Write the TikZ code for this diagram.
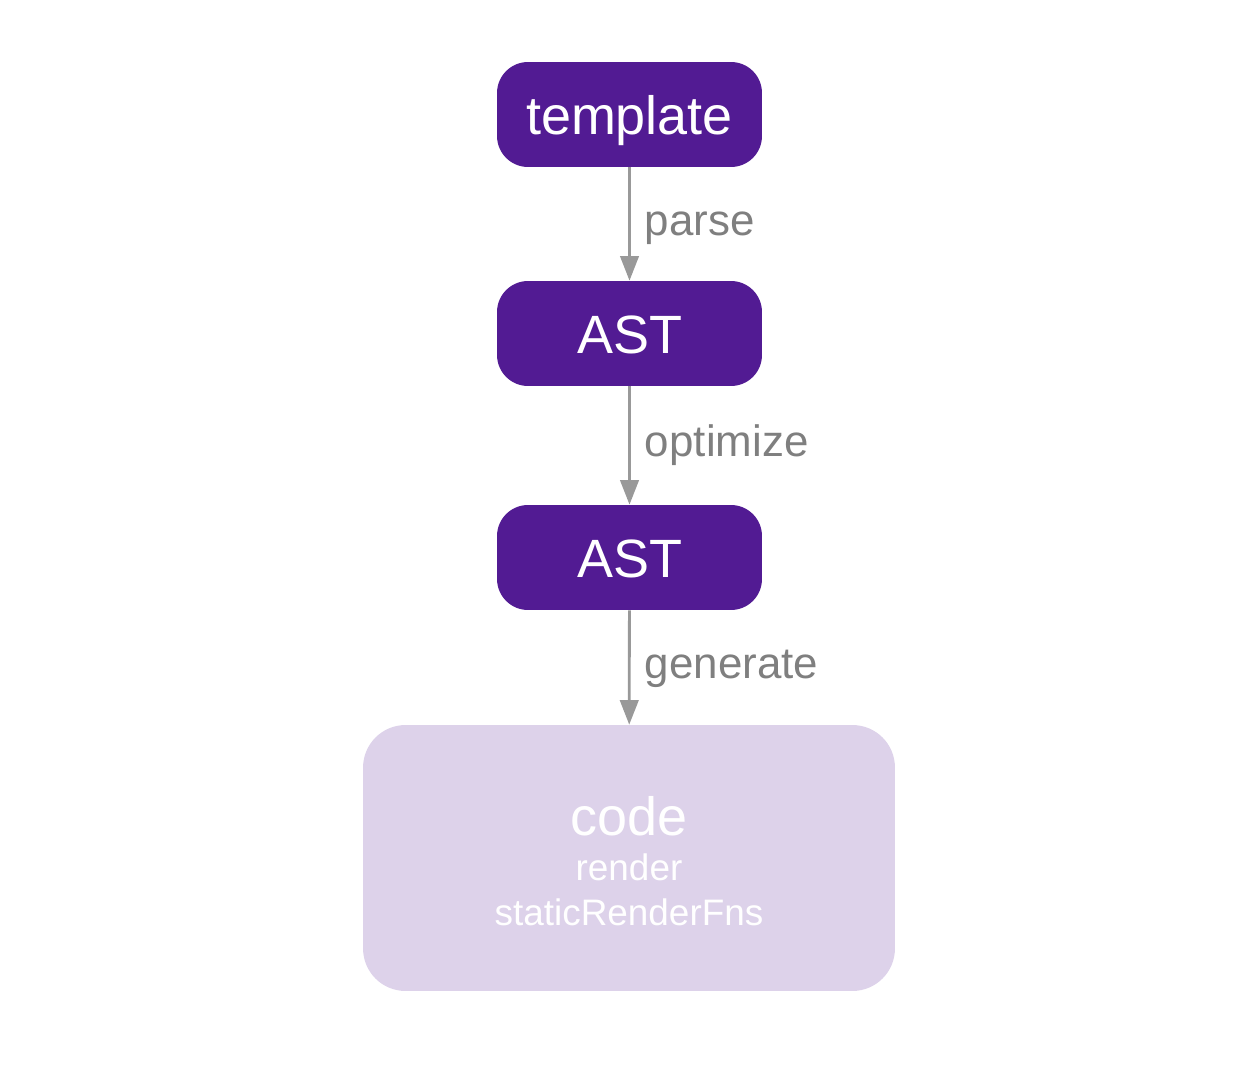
\documentclass[tikz,border=0pt]{standalone}
\usepackage{fontspec}
\setmainfont{Liberation Sans}
\usetikzlibrary{arrows.meta}
\definecolor{grape}{HTML}{521B93}
\definecolor{lilac}{HTML}{DDD2EA}
\definecolor{arrowgray}{HTML}{999999}
\definecolor{labelgray}{HTML}{7F7F7F}
\tikzset{
  stagebox/.style={fill=grape, text=white, rounded corners=0.62cm, minimum width=5.3cm, minimum height=2.1cm,
    inner sep=0pt, text height=22.8pt, text depth=0pt, font=\fontsize{30.7}{36}\selectfont},
  codebox/.style={fill=lilac, text=white, rounded corners=0.85cm, minimum width=10.64cm, minimum height=5.32cm,
    inner sep=0pt, align=center, font=\fontsize{21}{25.5}\selectfont},
  flow/.style={draw=arrowgray, line width=1.6pt, -{Triangle[length=14pt, width=10.5pt]}},
  steplabel/.style={text=labelgray, font=\fontsize{25}{30}\selectfont, anchor=base west, inner sep=0pt, xshift=8pt, yshift=-6.3pt}
}
\begin{document}
\begin{tikzpicture}[x=0.02cm, y=-0.02cm]
\useasboundingbox (0,0) rectangle (1253,1064);
\node[stagebox] (tpl) at (629.5,114.5) {template};
\node[stagebox] (ast1) at (629.5,333.5) {AST};
\node[stagebox] (ast2) at (629.5,557.5) {AST};
\node[codebox] (code) at (629,858) {{\fontsize{30.7}{25.5}\selectfont\rule{0pt}{26pt}code}\\render\\staticRenderFns};
\draw[flow] (tpl) -- node[steplabel] (l1) {parse} (ast1);
\draw[flow] (ast1) -- node[steplabel] (l2) {optimize} (ast2);
\draw[flow] (ast2) -- node[steplabel] (l3) {generate} (code);
\end{tikzpicture}
\end{document}
